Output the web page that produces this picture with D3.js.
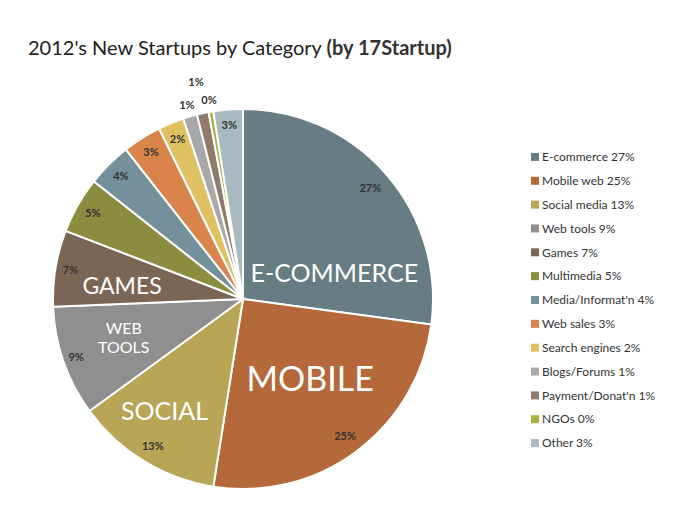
<!DOCTYPE html><html><head><meta charset="utf-8">
<script src="https://cdn.jsdelivr.net/npm/d3@7"></script>
<style>body{margin:0;background:#fff}text{font-family:Lato,"DejaVu Sans",sans-serif}</style></head><body>
<svg id="c" width="680" height="524"></svg>
<script>
const categories=["E-commerce","Mobile web","Social media","Web tools","Games","Multimedia","Media/Informat'n","Web sales","Search engines","Blogs/Forums","Payment/Donat'n","NGOs","Other"];
const values=[27.2,25.4,12.5,9.4,6.5,4.8,3.8,3.3,2.2,1.2,1.0,0.4,2.5];
const pctLabels=["27%","25%","13%","9%","7%","5%","4%","3%","2%","1%","1%","0%","3%"];
const legendLabels=["E-commerce 27%","Mobile web 25%","Social media 13%","Web tools 9%","Games 7%","Multimedia 5%","Media/Informat'n 4%","Web sales 3%","Search engines 2%","Blogs/Forums 1%","Payment/Donat'n 1%","NGOs 0%","Other 3%"];
const colors=["#687c84","#b5683a","#b9a556","#8f8f8f","#7b6656","#8a8d3f","#74909a","#d9844a","#e0c161","#a8a8a8","#917a6a","#a8b040","#a9b9c0"];
const bigLabels=[["E-COMMERCE"],["MOBILE"],["SOCIAL"],["WEB","TOOLS"],["GAMES"]];
const svg=d3.select("#c");
const cx=243,cy=299,R=190;
const t=svg.append("text").attr("x",28).attr("y",55).attr("font-size",20).attr("fill","#222");
t.append("tspan").text("2012's New Startups by Category ");
t.append("tspan").attr("font-weight","bold").attr("fill","#333").text("(by 17Startup)");
const pie=d3.pie().sort(null).value(d=>d);
const arcs=pie(values);
const arc=d3.arc().innerRadius(0).outerRadius(R);
const g=svg.append("g").attr("transform",`translate(${cx},${cy})`);
g.selectAll("path").data(arcs).join("path").attr("d",arc).attr("fill",(d,i)=>colors[i]).attr("stroke","#fff").attr("stroke-width",2);
const labR=[0.89,0.9,0.91,0.93,0.92,0.91,0.91,0.91,0.91,1.06,1.17,1.06,0.92];
const pos=(a,r)=>[Math.sin(a)*r,-Math.cos(a)*r];
g.selectAll("text.p").data(arcs).join("text").attr("class","p")
 .attr("transform",(d,i)=>{const a=(d.startAngle+d.endAngle)/2;const p=pos(a,R*labR[i]);return `translate(${p[0]},${p[1]})`;})
 .attr("text-anchor","middle").attr("dy","0.35em").attr("font-size",11).attr("font-weight","bold").attr("fill","#333")
 .text((d,i)=>pctLabels[i]);
// big category labels: [angle deg, radius frac, size]
const bigPos=[[74,0.5,25],[140,0.55,34],[215,0.72,25],[252,0.66,16],[276,0.64,23]];
bigLabels.forEach((lines,i)=>{
 const [ad,rf,fs]=bigPos[i];const p=pos(ad*Math.PI/180,R*rf);
 const tx=g.append("text").attr("x",p[0]).attr("y",p[1]).attr("text-anchor","middle").attr("fill","#fff").attr("font-size",fs);
 lines.forEach((l,j)=>tx.append("tspan").attr("x",p[0]).attr("y",p[1]+(j-(lines.length-1)/2)*fs*1.15+fs*0.35).text(l));
});
const y=d3.scaleBand().domain(categories).range([145,455]);
const lg=svg.append("g");
categories.forEach((c,i)=>{
 const yy=y(c)+y.bandwidth()/2;
 lg.append("rect").attr("x",531).attr("y",yy-4).attr("width",8).attr("height",8).attr("fill",colors[i]);
 lg.append("text").attr("x",542).attr("y",yy).attr("dy","0.35em").attr("font-size",12).attr("fill","#333").text(legendLabels[i]);
});
</script></body></html>
